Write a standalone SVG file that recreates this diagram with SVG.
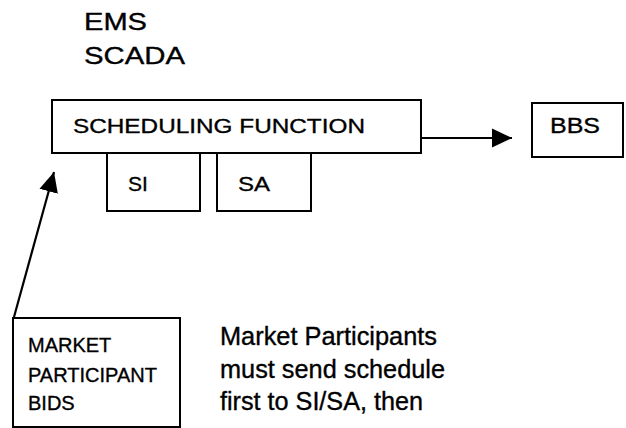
<svg xmlns="http://www.w3.org/2000/svg" width="626" height="428" viewBox="0 0 626 428">
<style>
  text { font-family: "Liberation Sans", Arial, sans-serif; fill: #000; stroke: #000; stroke-width: 0.35; }
  .box { fill: #fff; stroke: #000; stroke-width: 2; }
  .conn { stroke: #000; stroke-width: 2.2; fill: none; }
</style>
<defs>
  <marker id="ah" markerUnits="userSpaceOnUse" markerWidth="22" markerHeight="22" viewBox="0 0 22 22" refX="20" refY="11" orient="auto">
    <path d="M0,1.5 L20,11 L0,20.5 Z" fill="#000"/>
  </marker>
</defs>
<rect width="626" height="428" fill="#fff"/>
<g id="title">
  <text x="84" y="30" font-size="23" textLength="63" lengthAdjust="spacingAndGlyphs">EMS</text>
  <text x="84" y="64" font-size="23" textLength="101" lengthAdjust="spacingAndGlyphs">SCADA</text>
</g>
<g id="connectors">
  <line class="conn" x1="421" y1="138" x2="512" y2="138" marker-end="url(#ah)"/>
  <line class="conn" x1="14" y1="317" x2="54" y2="172" marker-end="url(#ah)"/>
</g>
<g id="scheduling">
  <rect class="box" x="52" y="100" width="369" height="53"/>
  <text x="73" y="133" font-size="21" textLength="292" lengthAdjust="spacingAndGlyphs">SCHEDULING FUNCTION</text>
</g>
<g id="si">
  <rect class="box" x="107" y="153" width="93" height="58"/>
  <text x="128" y="191" font-size="21">SI</text>
</g>
<g id="sa">
  <rect class="box" x="217" y="153" width="94" height="58"/>
  <text x="238" y="191" font-size="21" textLength="32" lengthAdjust="spacingAndGlyphs">SA</text>
</g>
<g id="bbs">
  <rect class="box" x="532" y="103" width="91" height="54"/>
  <text x="550" y="133" font-size="22" textLength="50" lengthAdjust="spacingAndGlyphs">BBS</text>
</g>
<g id="bids">
  <rect class="box" x="13" y="318" width="167" height="109"/>
  <text x="28" y="352" font-size="20">MARKET</text>
  <text x="28" y="382" font-size="20">PARTICIPANT</text>
  <text x="28" y="410" font-size="20">BIDS</text>
</g>
<g id="note">
  <text x="220" y="345" font-size="25" textLength="217" lengthAdjust="spacingAndGlyphs">Market Participants</text>
  <text x="220" y="378" font-size="25" textLength="225" lengthAdjust="spacingAndGlyphs">must send schedule</text>
  <text x="220" y="410" font-size="25" textLength="203" lengthAdjust="spacingAndGlyphs">first to SI/SA, then</text>
</g>
</svg>
